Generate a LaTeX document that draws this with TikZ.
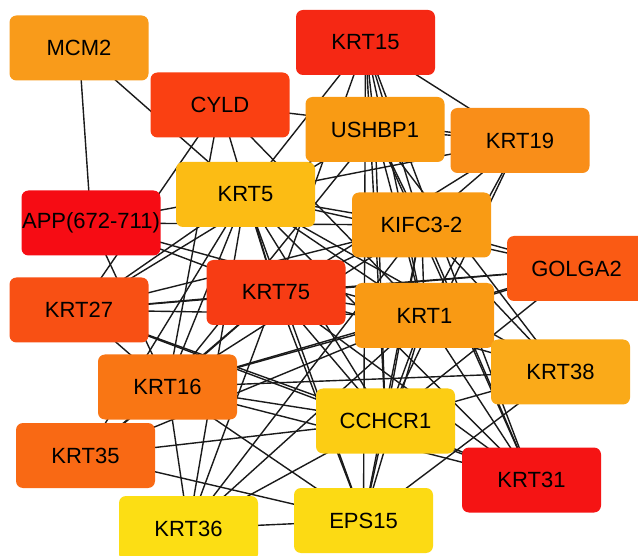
\documentclass[tikz,border=0pt]{standalone}
\usepackage{fontspec}
\setmainfont{Liberation Sans}
\usetikzlibrary{backgrounds}
\definecolor{cMCM}{HTML}{F99B1A}
\definecolor{cCYLD}{HTML}{FA4012}
\definecolor{cKa}{HTML}{F52814}
\definecolor{cUSH}{HTML}{F99B14}
\definecolor{cKb}{HTML}{F98E19}
\definecolor{cKc}{HTML}{FCBC14}
\definecolor{cAPP}{HTML}{F60C14}
\definecolor{cKIF}{HTML}{F99B14}
\definecolor{cGOL}{HTML}{FA5A14}
\definecolor{cKd}{HTML}{F85014}
\definecolor{cKe}{HTML}{F73C14}
\definecolor{cKf}{HTML}{F97614}
\definecolor{cKg}{HTML}{F96914}
\definecolor{cKh}{HTML}{FCDE14}
\definecolor{cKi}{HTML}{F99A14}
\definecolor{cKj}{HTML}{FAAA19}
\definecolor{cCCH}{HTML}{FCCD14}
\definecolor{cKk}{HTML}{F51414}
\definecolor{cEPS}{HTML}{FCDA14}
\definecolor{edgecol}{HTML}{1A1A1A}
\tikzset{
  gene/.style={rectangle, rounded corners=7pt, minimum width=139pt, minimum height=65pt,
    inner sep=0pt, font=\fontsize{22}{26}\selectfont, text=black},
  link/.style={draw=edgecol, line width=1.4pt}
}
\begin{document}
\begin{tikzpicture}[x=1pt,y=-1pt]
\useasboundingbox (0,0) rectangle (638,556);
\node[gene, fill=cMCM]  (MCM2) at (79,48)    {MCM2};
\node[gene, fill=cCYLD] (CYLD) at (220,105)  {CYLD};
\node[gene, fill=cKa]   (K15)  at (365.5,42.5) {KRT15};
\node[gene, fill=cUSH]  (USH)  at (375,129.5) {USHBP1};
\node[gene, fill=cKb]   (K19)  at (520,140.5) {KRT19};
\node[gene, fill=cKc]   (K5)   at (245.5,194.5) {KRT5};
\node[gene, fill=cAPP]  (APP)  at (91,223)   {APP(672-711)};
\node[gene, fill=cKIF]  (KIF)  at (421.5,225) {KIFC3-2};
\node[gene, fill=cGOL]  (GOL)  at (576.5,268.5) {GOLGA2};
\node[gene, fill=cKd]   (K27)  at (79,310)   {KRT27};
\node[gene, fill=cKe]   (K75)  at (276,292.5) {KRT75};
\node[gene, fill=cKi]   (K1)   at (424.5,315.5) {KRT1};
\node[gene, fill=cKj]   (K38)  at (560.5,372) {KRT38};
\node[gene, fill=cKf]   (K16)  at (167.5,387) {KRT16};
\node[gene, fill=cCCH]  (CCH)  at (385.5,421) {CCHCR1};
\node[gene, fill=cKg]   (K35)  at (85.5,455.5) {KRT35};
\node[gene, fill=cKk]   (K31)  at (531.5,480) {KRT31};
\node[gene, fill=cKh]   (K36)  at (188.5,528.5) {KRT36};
\node[gene, fill=cEPS]  (EPS)  at (363.5,520.5) {EPS15};
\begin{scope}[on background layer]
\fill[white] (0,0) rectangle (638,556);
\foreach \a/\b in {
 MCM2/APP, MCM2/K5,
 CYLD/K27, CYLD/K16, CYLD/K75, CYLD/K1, CYLD/K19,
 K15/K19, K15/K5, K15/K75, K15/USH, K15/KIF, K15/K1, K15/CCH, K15/K31, K15/EPS,
 USH/K19, USH/K5, USH/K16, USH/K1, USH/K38, USH/K31, USH/CCH, USH/KIF, USH/K27,
 K19/K5, K19/K75, K19/KIF, K19/K1, K19/CCH,
 K5/APP, K5/K27, K5/K16, K5/K35, K5/K36, K5/K75, K5/KIF, K5/K1, K5/GOL, K5/K38, K5/K31, K5/CCH, K5/EPS,
 APP/K16, APP/K1, APP/KIF, APP/K75,
 KIF/K75, KIF/K1, KIF/GOL, KIF/K38, KIF/K31, KIF/K16, KIF/K27, KIF/CCH, KIF/EPS, KIF/K36,
 GOL/K1, GOL/K75, GOL/K16, GOL/CCH, GOL/K27,
 K27/K75, K27/K1, K27/K16, K27/CCH, K27/K31,
 K75/K1, K75/K16, K75/K35, K75/K36, K75/CCH, K75/K38, K75/K31, K75/EPS,
 K1/K16, K1/K38, K1/K31, K1/CCH, K1/EPS, K1/K35, K1/K36,
 K38/K16, K38/CCH, K38/EPS,
 K16/K35, K16/CCH, K16/K36, K16/EPS, K16/K31,
 K35/CCH, K35/EPS,
 K36/EPS, K36/CCH,
 CCH/EPS, CCH/K31}
 \draw[link] (\a.center) -- (\b.center);
\end{scope}
\end{tikzpicture}
\end{document}
